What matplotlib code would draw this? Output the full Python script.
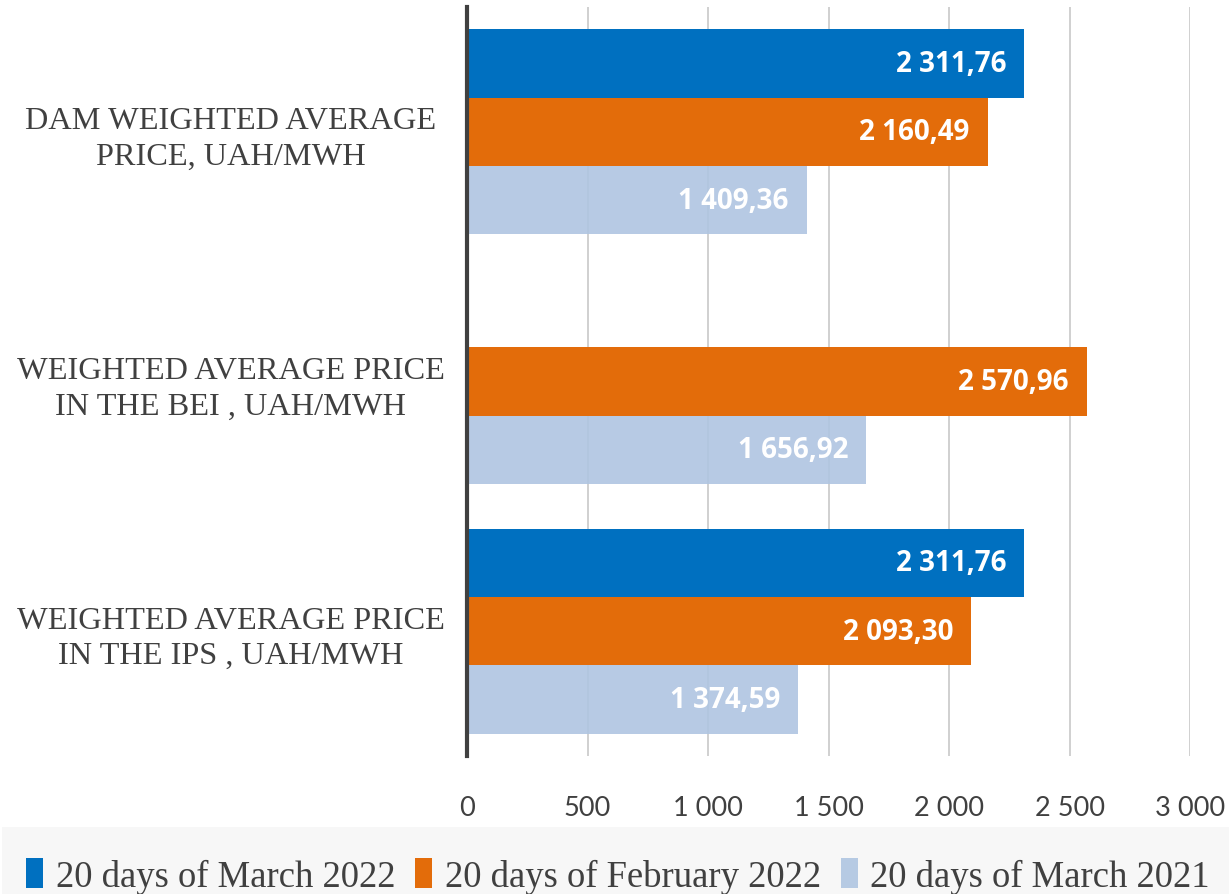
import numpy as np
import matplotlib
matplotlib.use("Agg")
import matplotlib.pyplot as plt
from matplotlib.patches import Rectangle

# data
categories = ["DAM WEIGHTED AVERAGE\nPRICE, UAH/MWH",
              "WEIGHTED AVERAGE PRICE\nIN THE BEI , UAH/MWH",
              "WEIGHTED AVERAGE PRICE\nIN THE IPS , UAH/MWH"]
series_names = ["20 days of March 2022", "20 days of February 2022", "20 days of March 2021"]
march_2022 = [2311.76, np.nan, 2311.76]
feb_2022 = [2160.49, 2570.96, 2093.30]
march_2021 = [1409.36, 1656.92, 1374.59]
xticks = [0, 500, 1000, 1500, 2000, 2500, 3000]

colors = ["#0070C0", "#E36C0A", "#AFC5E1"]

def fmt_num(v, dec=2):
    s = f"{v:,.{dec}f}"
    return s.replace(",", " ").replace(".", ",")

fig = plt.figure(figsize=(12.29, 8.95), dpi=100)
ax = fig.add_axes([467/1229, 1 - 757/895, (1190 - 467)/1229, (757 - 8)/895])

# gray legend band
fig.patches.append(Rectangle((2/1229, 0), 1, 67/895, transform=fig.transFigure,
                             facecolor="#F7F7F7", edgecolor="none", zorder=0))

y = np.arange(len(categories))
h = 0.274
all_series = [march_2022, feb_2022, march_2021]
offsets = [-h, 0, h]
for i, (vals, off, c, name) in enumerate(zip(all_series, offsets, colors, series_names)):
    light = i == 2
    ax.barh(y + off, np.nan_to_num(vals), height=h, color=c, label=name,
            zorder=3, alpha=0.9 if light else 1.0)
    for yi, v in zip(y + off, vals):
        if np.isnan(v):
            continue
        ax.text(v - 75, yi, fmt_num(v), ha="right", va="center", color="white",
                fontsize=20, fontweight="bold", family="Open Sans", zorder=5)

ax.set_xlim(0, 3000)
ax.set_ylim(2.5, -0.5)
ax.set_xticks(xticks)
ax.set_xticklabels([fmt_num(t, 0) for t in xticks], family="Lato", fontsize=19.5, color="#404040")
ax.set_yticks(y)
ax.set_yticklabels(categories, family="Liberation Serif", fontsize=23.3, color="#404040",
                   ha="center", multialignment="center", linespacing=1.3)
ax.tick_params(axis="y", length=0, pad=170)
ax.tick_params(axis="x", length=0, pad=28)
ax.xaxis.grid(True, color="#C8C8C8", lw=1.2, zorder=2)
ax.set_axisbelow(True)
for s in ["top", "right", "bottom"]:
    ax.spines[s].set_visible(False)
ax.spines["left"].set_color("#404040")
ax.spines["left"].set_linewidth(3)
ax.spines["left"].set_zorder(6)

leg = fig.legend(loc="center", bbox_to_anchor=(0.503, 18/895), ncol=3, frameon=False,
                 prop={"family": "Liberation Serif", "size": 26.4},
                 handlelength=0.45, handleheight=0.85, handletextpad=0.35, columnspacing=0.55)
for t in leg.get_texts():
    t.set_color("#404040")

fig.savefig("out.png", dpi=100)
